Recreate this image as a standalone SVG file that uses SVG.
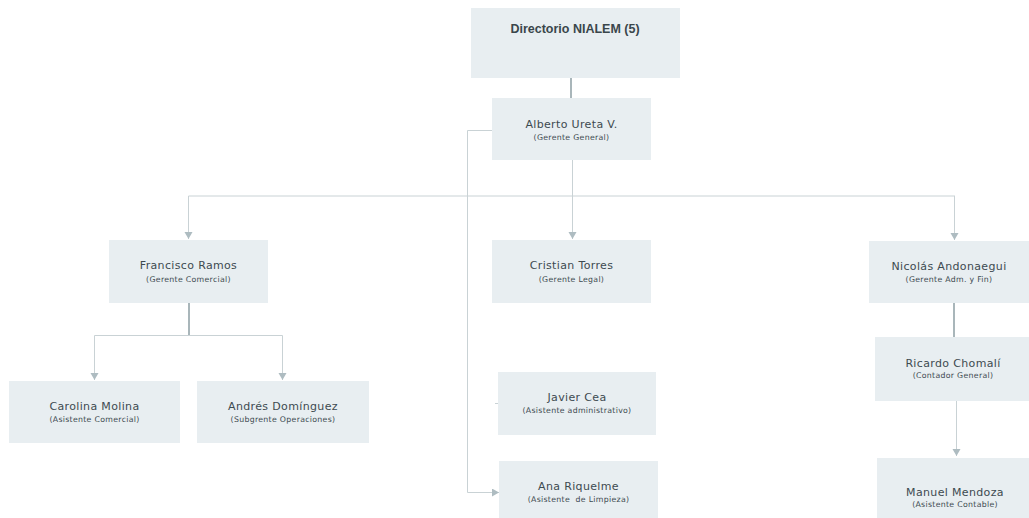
<svg xmlns="http://www.w3.org/2000/svg" width="1029" height="518" viewBox="0 0 1029 518">
<style>
.box{fill:#e8eef1}
.t{font-family:"DejaVu Sans","Liberation Sans",sans-serif;font-size:11px;letter-spacing:0.35px;fill:#3d4a50;text-anchor:middle}
.s{font-family:"DejaVu Sans","Liberation Sans",sans-serif;font-size:7.8px;letter-spacing:0.3px;fill:#3d4a50;text-anchor:middle}
.h{font-family:"Liberation Sans","DejaVu Sans",sans-serif;font-size:12.5px;font-weight:bold;fill:#3a464b;text-anchor:middle}
.ln{fill:none;stroke:#c9d2d5;stroke-width:1}
.tk{fill:none;stroke:#a9b6ba;stroke-width:2}
</style>
<defs>
<marker id="ar" markerUnits="userSpaceOnUse" markerWidth="9" markerHeight="9" refX="7" refY="4" orient="auto">
<path d="M0,0 L7,4 L0,8 z" fill="#aebcc1"/>
</marker>
</defs>
<rect width="1029" height="518" fill="#ffffff"/>
<g id="connectors">
<line class="tk" x1="571" y1="78" x2="571" y2="98"/>
<path class="ln" d="M572.5,160 V239" marker-end="url(#ar)"/>
<path class="ln" d="M188.5,196 H955"/>
<path class="ln" d="M188.5,196 V239" marker-end="url(#ar)"/>
<path class="ln" d="M954.5,196 V240" marker-end="url(#ar)"/>
<path class="ln" d="M492,130.5 H467.5 V492.5 H499" marker-end="url(#ar)"/>
<path class="ln" d="M495,403.5 H498"/>
<line class="tk" x1="189" y1="303" x2="189" y2="335"/>
<path class="ln" d="M94.5,335.5 H282.5"/>
<path class="ln" d="M94.5,335.5 V380" marker-end="url(#ar)"/>
<path class="ln" d="M282.5,335.5 V380" marker-end="url(#ar)"/>
<line class="tk" x1="954" y1="303" x2="954" y2="337"/>
<path class="ln" d="M956.5,401 V456" marker-end="url(#ar)"/>
</g>
<g id="directorio">
<rect class="box" x="471" y="8" width="209" height="70"/>
<text class="h" x="575" y="33">Directorio NIALEM (5)</text>
</g>
<g id="alberto">
<rect class="box" x="492" y="98" width="159" height="62"/>
<text class="t" x="571.5" y="128">Alberto Ureta V.</text>
<text class="s" x="571.5" y="139.5">(Gerente General)</text>
</g>
<g id="francisco">
<rect class="box" x="109" y="240" width="159" height="63"/>
<text class="t" x="188.5" y="269">Francisco Ramos</text>
<text class="s" x="188.5" y="281.5">(Gerente Comercial)</text>
</g>
<g id="cristian">
<rect class="box" x="492" y="240" width="159" height="63"/>
<text class="t" x="571.5" y="269">Cristian Torres</text>
<text class="s" x="571.5" y="281.5">(Gerente Legal)</text>
</g>
<g id="nicolas">
<rect class="box" x="869" y="241" width="160" height="62"/>
<text class="t" x="949" y="270">Nicolás Andonaegui</text>
<text class="s" x="949" y="282">(Gerente Adm. y Fin)</text>
</g>
<g id="carolina">
<rect class="box" x="9" y="381" width="171" height="62"/>
<text class="t" x="94.5" y="410">Carolina Molina</text>
<text class="s" x="94.5" y="422">(Asistente Comercial)</text>
</g>
<g id="andres">
<rect class="box" x="197" y="381" width="172" height="62"/>
<text class="t" x="283" y="410">Andrés Domínguez</text>
<text class="s" x="283" y="422">(Subgrente Operaciones)</text>
</g>
<g id="javier">
<rect class="box" x="498" y="372" width="158" height="63"/>
<text class="t" x="577" y="401">Javier Cea</text>
<text class="s" x="577" y="413">(Asistente administrativo)</text>
</g>
<g id="ana">
<rect class="box" x="499" y="461" width="159" height="57"/>
<text class="t" x="578.5" y="490">Ana Riquelme</text>
<text class="s" x="578.5" y="502" style="white-space:pre">(Asistente  de Limpieza)</text>
</g>
<g id="ricardo">
<rect class="box" x="875" y="337" width="154" height="64"/>
<text class="t" x="953" y="367">Ricardo Chomalí</text>
<text class="s" x="953" y="378">(Contador General)</text>
</g>
<g id="manuel">
<rect class="box" x="877" y="458" width="152" height="60"/>
<text class="t" x="955" y="496">Manuel Mendoza</text>
<text class="s" x="955" y="507">(Asistente Contable)</text>
</g>
</svg>
